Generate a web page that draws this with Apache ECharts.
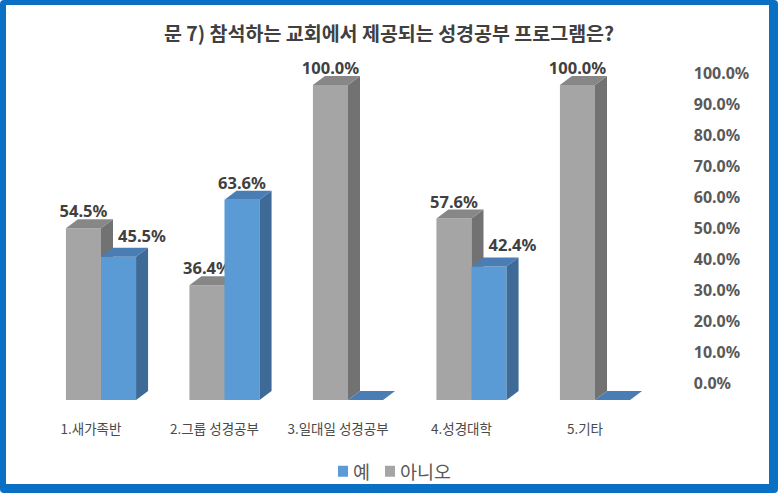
<!DOCTYPE html>
<html>
<head>
<meta charset="utf-8">
<script src="https://cdn.jsdelivr.net/npm/echarts@6/dist/echarts.min.js"></script>
<style>
html,body{margin:0;padding:0;background:#fff;}
#wrap{position:relative;width:778px;height:493px;}
#chart{position:absolute;left:0;top:0;width:778px;height:493px;}
#frame{position:absolute;left:0;top:0;width:778px;height:493px;box-sizing:border-box;border-style:solid;border-color:#0A70C4;border-width:5px 9px 9px 6px;border-radius:4px;pointer-events:none;}
</style>
</head>
<body>
<div id="wrap"><div id="chart"></div><div id="frame"></div></div>
<script>
var titleText = '문 7) 참석하는 교회에서 제공되는 성경공부 프로그램은?';
var categories = ['1.새가족반', '2.그룹 성경공부', '3.일대일 성경공부', '4.성경대학', '5.기타'];
var yesName = '예';
var noName = '아니오';
var yesValues = [45.5, 63.6, 0, 42.4, 0];
var noValues = [54.5, 36.4, 100, 57.6, 100];
var tickMin = 0, tickMax = 100, tickStep = 10;

var DX = 12, DY = 9;
function make3D(side, cFront, cSide, cTop, otherValues) {
  return function (params, api) {
    var ci = api.value(0), v = api.value(1);
    var p0 = api.coord([ci, 0]);
    var p1 = api.coord([ci, v]);
    var bw = api.size([1, 0])[0] * 0.284;
    var x0 = side < 0 ? p0[0] - bw : p0[0];
    var yb = p0[1], yt = p1[1];
    var children = [
      {type: 'rect', shape: {x: x0, y: yt, width: bw, height: yb - yt}, style: {fill: cFront}},
      {type: 'polygon', shape: {points: [[x0 + bw, yb], [x0 + bw + DX, yb - DY], [x0 + bw + DX, yt - DY], [x0 + bw, yt]]}, style: {fill: cSide}},
      {type: 'polygon', shape: {points: [[x0, yt], [x0 + DX, yt - DY], [x0 + bw + DX, yt - DY], [x0 + bw, yt]]}, style: {fill: cTop}}
    ];
    if (v > 0) {
      var lx = x0 + bw / 2, ly = yt - DY + 0;
      if (side > 0 && v < otherValues[ci]) { lx += bw * 0.67; ly -= 4; }
      children.push({type: 'text', style: {x: lx, y: ly, text: v.toFixed(1) + '%', align: 'center', verticalAlign: 'bottom', fill: '#404040', font: 'bold 16.5px "Noto Sans", sans-serif'}});
    }
    return {type: 'group', children: children};
  };
}

var chart = echarts.init(document.getElementById('chart'), null, {renderer: 'svg'});
chart.setOption({
  animation: false,
  backgroundColor: '#ffffff',
  title: {
    text: titleText, left: 'center', top: 18,
    textStyle: {fontFamily: '"Noto Sans CJK KR", sans-serif', fontSize: 19.5, fontWeight: 'bold', color: '#404040'}
  },
  legend: {
    data: [yesName, noName], left: 333, top: 457, icon: 'rect', itemWidth: 10, itemHeight: 11, itemGap: 15,
    textStyle: {fontFamily: '"Noto Sans CJK KR", sans-serif', fontSize: 18.5, color: '#595959'}
  },
  grid: [
    {left: 39.25, right: 121.25, top: 85, bottom: 93},
    {left: 39.25, right: 121.25, top: 73, bottom: 110}
  ],
  xAxis: [
    {type: 'category', data: categories, gridIndex: 0, axisLine: {show: false}, axisTick: {show: false},
     axisLabel: {margin: 21, padding: [0, 20, 0, 0], color: '#4a4a4a', fontSize: 13.5, fontFamily: '"Noto Sans CJK KR", sans-serif', interval: 0}},
    {type: 'value', gridIndex: 1, show: false, min: 0, max: 1}
  ],
  yAxis: [
    {type: 'value', gridIndex: 0, min: tickMin, max: tickMax, show: false},
    {type: 'value', gridIndex: 1, position: 'right', min: tickMin, max: tickMax, interval: tickStep,
     axisLine: {show: false}, axisTick: {show: false}, splitLine: {show: false},
     axisLabel: {align: 'left', margin: 37, color: '#595959', fontSize: 16, fontWeight: 'bold', fontFamily: '"Noto Sans", sans-serif',
       formatter: function (v) { return v.toFixed(1) + '%'; }}}
  ],
  series: [
    {name: noName, type: 'custom', xAxisIndex: 0, yAxisIndex: 0, itemStyle: {color: '#A5A5A5'},
     renderItem: make3D(-1, '#A5A5A5', '#727272', '#878787', yesValues),
     data: noValues.map(function (v, i) { return [i, v]; })},
    {name: yesName, type: 'custom', xAxisIndex: 0, yAxisIndex: 0, itemStyle: {color: '#5B9BD5'},
     renderItem: make3D(1, '#5B9BD5', '#3D6A96', '#4A7DB4', noValues),
     data: yesValues.map(function (v, i) { return [i, v]; })}
  ]
});
</script>
</body>
</html>
